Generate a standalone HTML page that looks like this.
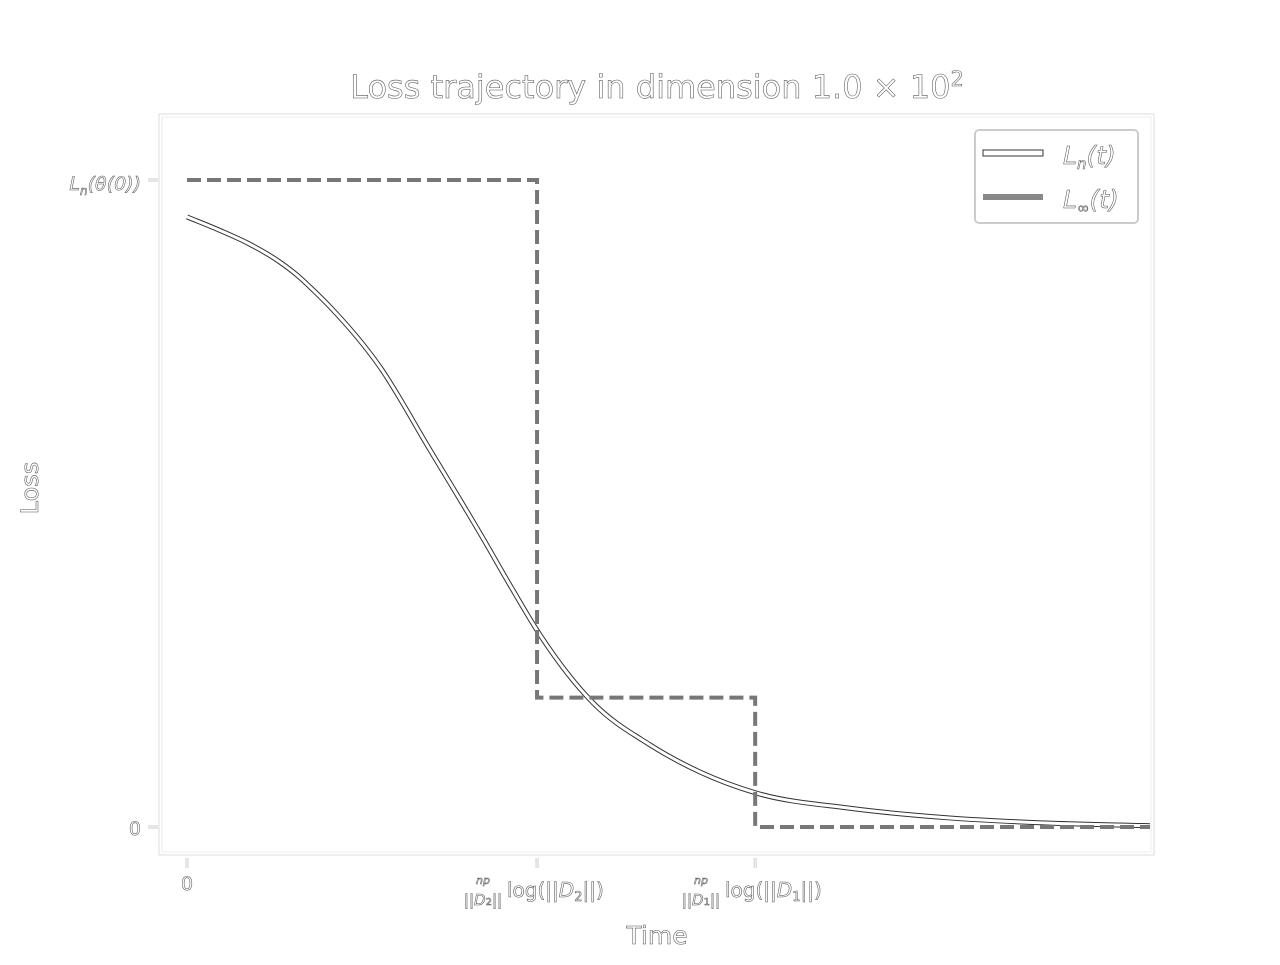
<!DOCTYPE html>
<html><head><meta charset="utf-8"><style>
body{margin:0;background:#fff}
svg text{font-family:"DejaVu Sans","Liberation Sans",sans-serif;fill:#fff;stroke:#555;stroke-width:0.55}
</style></head><body>
<svg id="chart" width="1280" height="960" xmlns="http://www.w3.org/2000/svg">
<text x="657" y="98" font-size="32" text-anchor="middle">Loss trajectory in dimension 1.0 × 10<tspan dy="-12" font-size="21">2</tspan></text>
<rect x="159" y="114" width="995" height="741" fill="none" stroke="#ddd" stroke-width="1"/>
<rect x="162" y="117" width="989" height="735" fill="none" stroke="#eee" stroke-width="1"/>
<g id="ticks"></g>
<g id="marks"></g>
<text x="38" y="488" font-size="24" text-anchor="middle" transform="rotate(-90 38 488)">Loss</text>
<text x="657" y="944" font-size="25" text-anchor="middle">Time</text>
<g>
<rect x="975" y="130" width="163" height="93" rx="4" fill="#fff" stroke="#ccc" stroke-width="2"/>
<rect x="983" y="150" width="60" height="6" fill="#fff" stroke="#333" stroke-width="1"/>
<text x="1063" y="164" font-size="25" font-style="italic">L<tspan font-size="15" dy="5">n</tspan><tspan dy="-5">(t)</tspan></text>
<rect x="983" y="194" width="60" height="6" fill="#888"/>
<text x="1063" y="208" font-size="25" font-style="italic">L<tspan font-size="15" dy="5">∞</tspan><tspan dy="-5">(t)</tspan></text>
</g>
</svg>
<script>
const curveT=[0,0.0343,0.0623,0.0966,0.1143,0.131,0.1485,0.2004,0.2523,0.3043,0.3385,0.3635,0.4216,0.4808,0.5327,0.59,0.6885,0.792,0.896,1.0];
const curveL=[0.943,0.922,0.903,0.873,0.853,0.830,0.804,0.711,0.583,0.454,0.366,0.304,0.192,0.127,0.085,0.053,0.029,0.014,0.006,0.002];
const stepT=[0,0.3635,0.3635,0.59,0.59,1.0];
const stepL=[1,1,0.2,0.2,0,0];
const yTicks=[0,1];
const xTicks=[0,0.3635,0.59];
const NS="http://www.w3.org/2000/svg";
const xs=t=>187+t*963, ys=l=>827-l*647;
const marks=document.getElementById('marks'), ticks=document.getElementById('ticks');
function mk(tag,attrs,parent){const e=document.createElementNS(NS,tag);for(const k in attrs)e.setAttribute(k,attrs[k]);parent.appendChild(e);return e;}
const X=curveT.map(xs), Y=curveL.map(ys), n=X.length;
const dl=[],m=[];
for(let i=0;i<n-1;i++)dl.push((Y[i+1]-Y[i])/(X[i+1]-X[i]));
m[0]=dl[0];m[n-1]=dl[n-2];
for(let i=1;i<n-1;i++){m[i]=dl[i-1]*dl[i]<=0?0:(dl[i-1]*(X[i+1]-X[i])+dl[i]*(X[i]-X[i-1]))/(X[i+1]-X[i-1]);}
let d=`M${X[0]},${Y[0]}`;
for(let i=0;i<n-1;i++){const h=X[i+1]-X[i];
d+=` C${X[i]+h/3},${Y[i]+m[i]*h/3} ${X[i+1]-h/3},${Y[i+1]-m[i+1]*h/3} ${X[i+1]},${Y[i+1]}`;}
const c1=mk('path',{d,fill:'none',stroke:'#333','stroke-width':5},marks);


const c2=mk('path',{d,fill:'none',stroke:'#fff','stroke-width':3},marks);


const sp=stepT.map((t,i)=>`${xs(t)},${ys(stepL[i])}`).join(' ');
const st=mk('polyline',{points:sp,fill:'none',stroke:'#777','stroke-width':4,'stroke-dasharray':'14,6'},marks);


yTicks.forEach(v=>{const y=ys(v);
const tk=mk('line',{x1:148,x2:158,y1:y,y2:y,stroke:'#ccc','stroke-width':3},ticks);


mk('line',{x1:148,x2:158,y1:y,y2:y,stroke:'#fff','stroke-width':1},ticks);});
xTicks.forEach(v=>{const x=xs(v);
const tk=mk('line',{x1:x,x2:x,y1:858,y2:868,stroke:'#ccc','stroke-width':3},ticks);


mk('line',{x1:x,x2:x,y1:858,y2:868,stroke:'#fff','stroke-width':1},ticks);});
ticks.insertAdjacentHTML('beforeend',
`<text x="141" y="835" font-size="19" text-anchor="end">0</text>
<text x="141" y="190" font-size="19" font-style="italic" text-anchor="end">L<tspan font-size="12" dy="5">n</tspan><tspan dy="-5">(θ(0))</tspan></text>
<text x="187" y="890" font-size="19" text-anchor="middle">0</text>
<g><text x="483" y="884" font-size="11" font-style="italic" text-anchor="middle">np</text><text x="483" y="905" font-size="15" text-anchor="middle">||<tspan font-style="italic">D</tspan><tspan font-size="10">2</tspan>||</text><text x="507" y="897" font-size="20">log(||<tspan font-style="italic">D</tspan><tspan font-size="13" dy="4">2</tspan><tspan dy="-4">||)</tspan></text></g>
<g><text x="701" y="884" font-size="11" font-style="italic" text-anchor="middle">np</text><text x="701" y="905" font-size="15" text-anchor="middle">||<tspan font-style="italic">D</tspan><tspan font-size="10">1</tspan>||</text><text x="725" y="897" font-size="20">log(||<tspan font-style="italic">D</tspan><tspan font-size="13" dy="4">1</tspan><tspan dy="-4">||)</tspan></text></g>`);
</script>
</body></html>
